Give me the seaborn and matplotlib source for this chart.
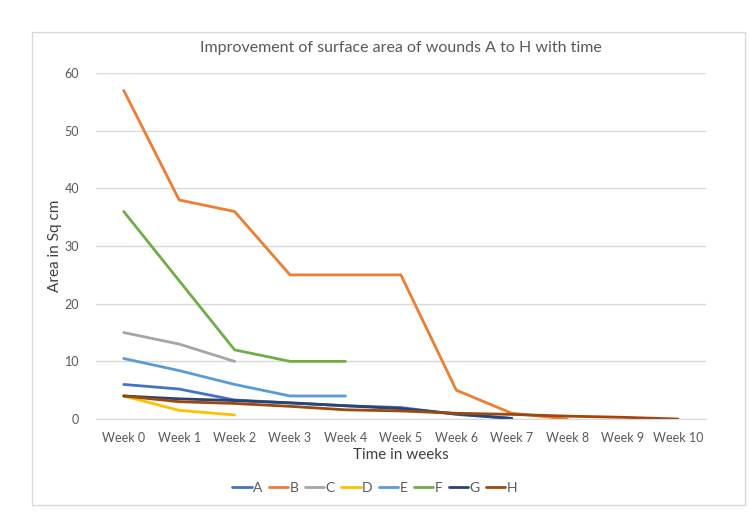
import numpy as np
import pandas as pd
import matplotlib
matplotlib.use("Agg")
import matplotlib.pyplot as plt
from matplotlib.patches import Rectangle
import seaborn as sns

# data
weeks = ["Week 0", "Week 1", "Week 2", "Week 3", "Week 4", "Week 5",
         "Week 6", "Week 7", "Week 8", "Week 9", "Week 10"]
nan = np.nan
A = [6.0, 5.2, 3.3, 2.8, 2.3, 2.0, 0.8, 0.1, nan, nan, nan]
B = [57, 38, 36, 25, 25, 25, 5, 1, 0, nan, nan]
C = [15, 13, 10, nan, nan, nan, nan, nan, nan, nan, nan]
D = [4, 1.5, 0.7, nan, nan, nan, nan, nan, nan, nan, nan]
E = [10.5, 8.4, 6, 4, 4, nan, nan, nan, nan, nan, nan]
F = [36, 24, 12, 10, 10, nan, nan, nan, nan, nan, nan]
G = [4, 3.5, 3.2, 2.8, 2.3, 1.8, 0.9, 0.1, nan, nan, nan]
H = [4, 3.0, 2.7, 2.2, 1.6, 1.4, 1.0, 0.8, 0.5, 0.3, 0.0]

series = {"A": A, "B": B, "C": C, "D": D, "E": E, "F": F, "G": G, "H": H}
colors = {"A": "#4472C4", "B": "#ED7D31", "C": "#A5A5A5", "D": "#FFC000",
          "E": "#5B9BD5", "F": "#70AD47", "G": "#264478", "H": "#9E480E"}

df = pd.DataFrame(series)
df["pos"] = range(len(weeks))
long = df.melt(id_vars="pos", var_name="Wound", value_name="Area").dropna()

sns.set_style("white")
plt.rcParams["font.family"] = ["Lato", "DejaVu Sans"]

fig = plt.figure(figsize=(7.5, 5.3), dpi=100)
ax = fig.add_axes([0.128, 0.2094, 0.813, 0.6526])

sns.lineplot(data=long, x="pos", y="Area", hue="Wound", palette=colors,
             linewidth=2, ax=ax, sort=False, estimator=None)

ax.set_xlim(-0.5, len(weeks) - 0.5)
ax.set_ylim(0, 60)
ax.set_xticks(range(len(weeks)))
ax.set_xticklabels(weeks)
ax.set_yticks(range(0, 61, 10))
ax.tick_params(axis="both", length=0, labelsize=9, colors="#595959")
ax.tick_params(axis="x", pad=9)
ax.tick_params(axis="y", pad=12)
ax.yaxis.grid(True, color="#D9D9D9", linewidth=1)
ax.set_axisbelow(True)
for s in ["top", "right", "left"]:
    ax.spines[s].set_visible(False)
ax.spines["bottom"].set_color("#D9D9D9")

ax.set_xlabel("Time in weeks", fontsize=11, color="#404040", labelpad=3)
ax.set_ylabel("Area in Sq cm", fontsize=11, color="#404040", labelpad=2)
ax.set_title("Improvement of surface area of wounds A to H with time",
             fontsize=11.5, color="#595959", pad=15)

leg = ax.legend(loc="center", bbox_to_anchor=(0.457, -0.2), ncol=8,
                frameon=False, fontsize=10, handlelength=1.4,
                handletextpad=0.1, columnspacing=0.45)
for t in leg.get_texts():
    t.set_color("#595959")

fig.patches.append(Rectangle((0.043, 0.047), 0.95, 0.893, transform=fig.transFigure,
                             fill=False, edgecolor="#D9D9D9", linewidth=1))

fig.savefig("out.png", dpi=100)
